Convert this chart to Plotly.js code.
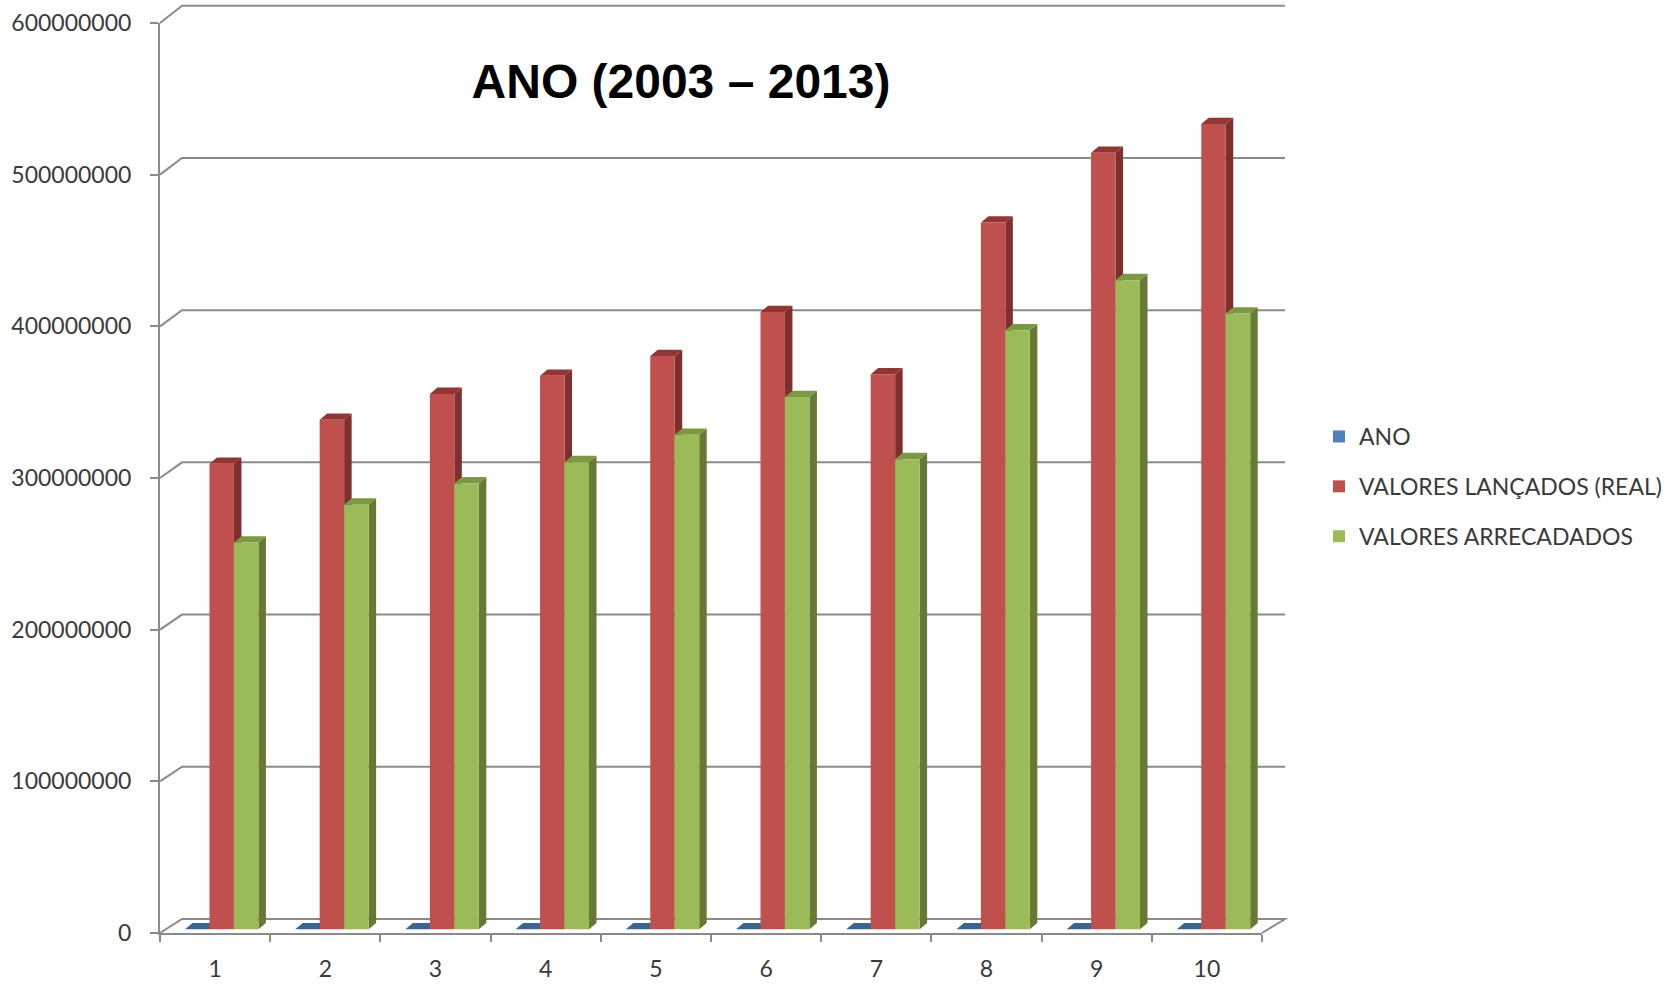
<!DOCTYPE html>
<html>
<head>
<meta charset="utf-8">
<script src="https://cdn.plot.ly/plotly-3.0.1.min.js"></script>
<style>html,body{margin:0;padding:0;background:#fff;}#chart{width:1672px;height:985px;}</style>
</head>
<body>
<div id="chart"></div>
<script>
// ---- data ----
const CATEGORIES = ['1', '2', '3', '4', '5', '6', '7', '8', '9', '10'];
const ANO = [2003, 2004, 2005, 2006, 2007, 2008, 2009, 2010, 2011, 2012];
const VALORES_LANCADOS = [307e6, 336e6, 353e6, 365e6, 378e6, 407e6, 366e6, 466e6, 512e6, 531e6];
const VALORES_ARRECADADOS = [255e6, 280e6, 294e6, 308e6, 326e6, 351e6, 310e6, 395e6, 428e6, 406e6];
const SERIES_NAMES = ['ANO', 'VALORES LANÇADOS (REAL)', 'VALORES ARRECADADOS'];
const Y_TICKS = [0, 100000000, 200000000, 300000000, 400000000, 500000000, 600000000];
const TITLE = 'ANO (2003 – 2013)';

// ---- geometry / style ----
const W = 1672, H = 985;
const PLOT = {l: 160, r: 1262, t: 23, b: 933};
const YMAX = 600000000;
const BACK = {x0: 182, x1: 1285, yFloor: 919, yTop: 5.7};
const DEPTH = {dx: 7.5, dy: 6.3};
const BAR_LIFT_PX = 3.7;
const GRID_COLOR = '#8a8a8a';
const TEXT_COLOR = '#3a3a3a';
const FONT = 'Lato, "Open Sans", sans-serif';

const STYLES = [
  {front: '#4F81BD', side: '#2E4D72', top: '#3B6491', offset: -0.273},
  {front: '#C0504D', side: '#7E2F2E', top: '#923634', offset: -0.051},
  {front: '#9BBB59', side: '#667A35', top: '#7B9842', offset: 0.171}
];
const BAR_W = 0.222;

const catPx = (PLOT.r - PLOT.l) / CATEGORIES.length;
const valPerPx = YMAX / (PLOT.b - PLOT.t);
const dxd = DEPTH.dx / catPx;
const dyd = DEPTH.dy * valPerPx;
const BASE = BAR_LIFT_PX * valPerPx;

const xs = CATEGORIES.map((c, i) => i + 1);
const boundaries = [0.5].concat(xs.map(x => x + 0.5));
const SERIES = [ANO, VALORES_LANCADOS, VALORES_ARRECADADOS];

const px2pX = px => (px - PLOT.l) / (PLOT.r - PLOT.l);
const px2pY = py => (PLOT.b - py) / (PLOT.b - PLOT.t);
const yBack = v => BACK.yFloor - v / YMAX * (BACK.yFloor - BACK.yTop);

const traces = SERIES.map((vals, s) => ({
  type: 'bar',
  name: SERIES_NAMES[s],
  legendgroup: 'g' + s,
  x: xs,
  y: vals,
  base: BASE,
  offset: STYLES[s].offset,
  width: BAR_W,
  marker: {color: STYLES[s].front, line: {width: 0}},
  hoverinfo: 'skip'
}));

const shapes = [];
// back wall, side wall gridlines and floor
Y_TICKS.forEach(v => {
  const yb = px2pY(yBack(v));
  let path;
  if (v === 0) {
    path = `M 0,0 L ${px2pX(BACK.x0)},${yb} L ${px2pX(BACK.x1)},${yb} L 1,0`;
  } else {
    path = `M 0,${v / YMAX} L ${px2pX(BACK.x0)},${yb} L ${px2pX(BACK.x1)},${yb}`;
  }
  shapes.push({type: 'path', xref: 'paper', yref: 'paper', layer: 'below', path: path,
    line: {color: GRID_COLOR, width: 2}});
});
// 3D faces of bars (side + top), computed from the data
SERIES.forEach((vals, s) => {
  vals.forEach((v, i) => {
    const xl = xs[i] + STYLES[s].offset;
    const xr = xl + BAR_W;
    const top = BASE + v;
    shapes.push({type: 'path', xref: 'x', yref: 'y', layer: 'below', line: {width: 0},
      fillcolor: STYLES[s].side,
      path: `M ${xr},${BASE} L ${xr},${top} L ${xr + dxd},${top + dyd} L ${xr + dxd},${BASE + dyd} Z`});
    shapes.push({type: 'path', xref: 'x', yref: 'y', layer: 'below', line: {width: 0},
      fillcolor: STYLES[s].top,
      path: `M ${xl},${top} L ${xr},${top} L ${xr + dxd},${top + dyd} L ${xl + dxd},${top + dyd} Z`});
  });
});

const layout = {
  width: W, height: H,
  margin: {l: PLOT.l, r: W - PLOT.r, t: PLOT.t, b: H - PLOT.b, pad: 0, autoexpand: false},
  paper_bgcolor: '#ffffff',
  plot_bgcolor: 'rgba(0,0,0,0)',
  barmode: 'overlay',
  showlegend: true,
  title: {
    text: TITLE, xref: 'container', yref: 'container',
    x: 681 / W, xanchor: 'center', y: 1 - 81 / H, yanchor: 'middle',
    font: {family: '"Liberation Sans", Arial, sans-serif', size: 48, color: '#000000', weight: 700}
  },
  xaxis: {
    range: [0.5, 10.5], tickvals: xs, ticktext: CATEGORIES, ticks: '',
    showline: true, linecolor: GRID_COLOR, linewidth: 2, showgrid: false, zeroline: false,
    tickfont: {family: FONT, size: 23, color: TEXT_COLOR}, ticklabelstandoff: 14,
    minor: {tickvals: boundaries, ticks: 'outside', ticklen: 7, tickwidth: 2, tickcolor: GRID_COLOR, showgrid: false},
    fixedrange: true
  },
  yaxis: {
    range: [0, YMAX], tickvals: Y_TICKS, tickformat: 'd', ticks: 'outside', ticklen: 8,
    tickwidth: 2, tickcolor: GRID_COLOR, showline: true, linecolor: GRID_COLOR, linewidth: 2,
    showgrid: false, zeroline: false, ticklabelstandoff: 14,
    tickfont: {family: FONT, size: 23, color: TEXT_COLOR}, fixedrange: true
  },
  legend: {
    x: px2pX(1319), xanchor: 'left', y: px2pY(415), yanchor: 'top',
    font: {family: FONT, size: 23, color: TEXT_COLOR},
    traceorder: 'grouped', tracegroupgap: 17, bgcolor: 'rgba(0,0,0,0)', borderwidth: 0
  },
  shapes: shapes
};

Plotly.newPlot('chart', traces, layout, {displayModeBar: false, staticPlot: true});
</script>
</body>
</html>
